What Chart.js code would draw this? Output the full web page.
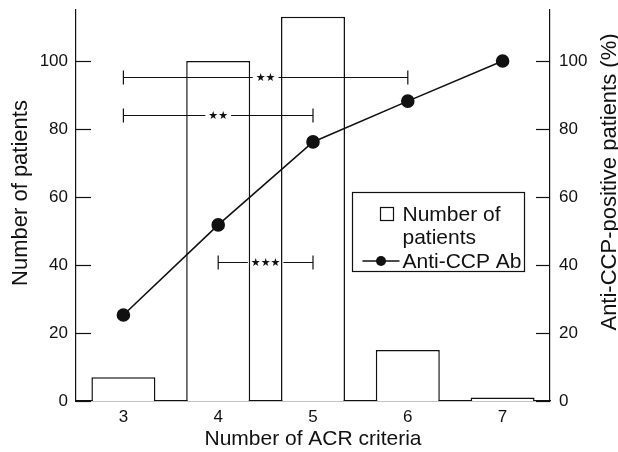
<!DOCTYPE html>
<html><head><meta charset="utf-8">
<script src="https://cdn.jsdelivr.net/npm/chart.js@4/dist/chart.umd.min.js"></script>
<style>html,body{margin:0;padding:0;background:#fff}</style>
</head><body>
<canvas id="c" width="618" height="452"></canvas>
<script>
const categories = ['3', '4', '5', '6', '7'];
const patientCounts = [7, 100, 113, 15, 1];
const antiCcpPercent = [25.3, 51.8, 76.2, 88.2, 100];
const comparisons = [
  { from: '3', to: '6', level: 95.4, stars: '★★' },
  { from: '3', to: '5', level: 84.1, stars: '★★' },
  { from: '4', to: '5', level: 40.9, stars: '★★★' }
];
const axisMax = 115;
const leftTitle = 'Number of patients';
const rightTitle = 'Anti-CCP-positive patients (%)';

const FONT = "'Liberation Sans', Arial, sans-serif";
const INK = '#111';

function verticalText(ctx, text, bx, cy) {
  ctx.save();
  ctx.translate(bx, cy);
  ctx.rotate(-Math.PI / 2);
  ctx.font = '22px ' + FONT;
  ctx.textAlign = 'center'; ctx.textBaseline = 'alphabetic';
  ctx.fillStyle = INK;
  ctx.fillText(text, 0, 0);
  ctx.restore();
}

const decor = {
  id: 'decor',
  beforeDatasetsDraw(chart) {
    const ctx = chart.ctx, y = chart.scales.y, y1 = chart.scales.y1;
    ctx.save();
    ctx.strokeStyle = INK; ctx.lineWidth = 1.2;
    y.ticks.forEach(t => {
      const p = Math.round(y.getPixelForValue(t.value)) + 0.5;
      ctx.beginPath(); ctx.moveTo(y.right, p); ctx.lineTo(y.right + 15, p); ctx.stroke();
    });
    y1.ticks.forEach(t => {
      const p = Math.round(y1.getPixelForValue(t.value)) + 0.5;
      ctx.beginPath(); ctx.moveTo(y1.left, p); ctx.lineTo(y1.left - 14, p); ctx.stroke();
    });
    ctx.restore();
  },
  afterDatasetsDraw(chart) {
    const ctx = chart.ctx, x = chart.scales.x, y = chart.scales.y, y1 = chart.scales.y1, ca = chart.chartArea;
    ctx.save();
    ctx.strokeStyle = INK; ctx.fillStyle = INK; ctx.lineWidth = 1.2;
    // significance brackets
    ctx.font = "11px 'DejaVu Sans'";
    ctx.textAlign = 'center'; ctx.textBaseline = 'middle';
    comparisons.forEach(c => {
      const x1 = x.getPixelForValue(categories.indexOf(c.from));
      const x2 = x.getPixelForValue(categories.indexOf(c.to));
      const yp = Math.round(y.getPixelForValue(c.level)) + 0.5;
      const mid = (x1 + x2) / 2;
      const w = ctx.measureText(c.stars).width + 6;
      ctx.beginPath();
      ctx.moveTo(x1, yp); ctx.lineTo(mid - w / 2, yp);
      ctx.moveTo(mid + w / 2, yp); ctx.lineTo(x2, yp);
      ctx.moveTo(x1, yp - 7); ctx.lineTo(x1, yp + 7);
      ctx.moveTo(x2, yp - 7); ctx.lineTo(x2, yp + 7);
      ctx.stroke();
      ctx.fillText(c.stars, mid, yp + 0.5);
    });
    // legend
    const L = ca.right - 197.5, T = ca.top + 182.5, W = 172, H = 79;
    ctx.fillStyle = '#fff';
    ctx.fillRect(L, T, W, H);
    ctx.strokeStyle = INK; ctx.fillStyle = INK;
    ctx.strokeRect(L, T, W, H);
    ctx.strokeRect(L + 28, T + 15, 13, 13);
    ctx.font = '21px ' + FONT;
    ctx.textAlign = 'left'; ctx.textBaseline = 'alphabetic';
    ctx.fillText('Number of', L + 50, T + 28.5);
    ctx.fillText('patients', L + 50, T + 51);
    ctx.fillText('Anti-CCP Ab', L + 50, T + 75);
    ctx.lineWidth = 1.5;
    ctx.beginPath(); ctx.moveTo(L + 10, T + 68.5); ctx.lineTo(L + 47, T + 68.5); ctx.stroke();
    ctx.beginPath(); ctx.arc(L + 28.5, T + 68.5, 5, 0, Math.PI * 2); ctx.fill();
    ctx.restore();
    // axis titles, both reading bottom-to-top
    verticalText(ctx, leftTitle, y.left + 27, ca.top + 183);
    verticalText(ctx, rightTitle, y1.right - 2, ca.top + 172);
  }
};

function noPad(s) { s.paddingTop = 0; s.paddingBottom = 0; }

new Chart(document.getElementById('c'), {
  data: {
    labels: categories,
    datasets: [
      {
        type: 'line', label: 'Anti-CCP Ab', data: antiCcpPercent, yAxisID: 'y1',
        borderColor: INK, borderWidth: 1.6, pointRadius: 6, pointBackgroundColor: INK,
        pointBorderColor: INK, tension: 0, order: 0
      },
      {
        type: 'bar', label: 'Number of patients', data: patientCounts, yAxisID: 'y',
        backgroundColor: '#fff', borderColor: INK, borderWidth: 1.5,
        categoryPercentage: 1, barPercentage: 0.675, order: 1
      }
    ]
  },
  options: {
    responsive: false, animation: false, devicePixelRatio: 1,
    layout: { padding: { top: 10, left: 0, right: 0, bottom: 0 } },
    plugins: { legend: { display: false }, tooltip: { enabled: false } },
    scales: {
      x: {
        grid: { display: false, drawTicks: false },
        border: { display: true, color: INK, width: 1.2 },
        ticks: { color: INK, font: { family: FONT, size: 17 }, padding: 6 },
        title: { display: true, text: 'Number of ACR criteria', color: INK,
                 font: { family: FONT, size: 21 }, padding: { top: 0, bottom: 0 } },
        afterFit(s) { s.height = 51; }
      },
      y: {
        position: 'left', min: 0, max: axisMax,
        grid: { display: false, drawTicks: false },
        border: { display: true, color: INK, width: 1.2 },
        ticks: { stepSize: 20, includeBounds: false, color: INK, font: { family: FONT, size: 17 }, padding: 8 },
        title: { display: false },
        afterFit(s) { s.width = 76; noPad(s); }
      },
      y1: {
        position: 'right', min: 0, max: axisMax,
        grid: { display: false, drawTicks: false },
        border: { display: true, color: INK, width: 1.2 },
        ticks: { stepSize: 20, includeBounds: false, color: INK, font: { family: FONT, size: 17 }, padding: 9 },
        title: { display: false },
        afterFit(s) { s.width = 68; noPad(s); }
      }
    }
  },
  plugins: [decor]
});
</script>
</body></html>
